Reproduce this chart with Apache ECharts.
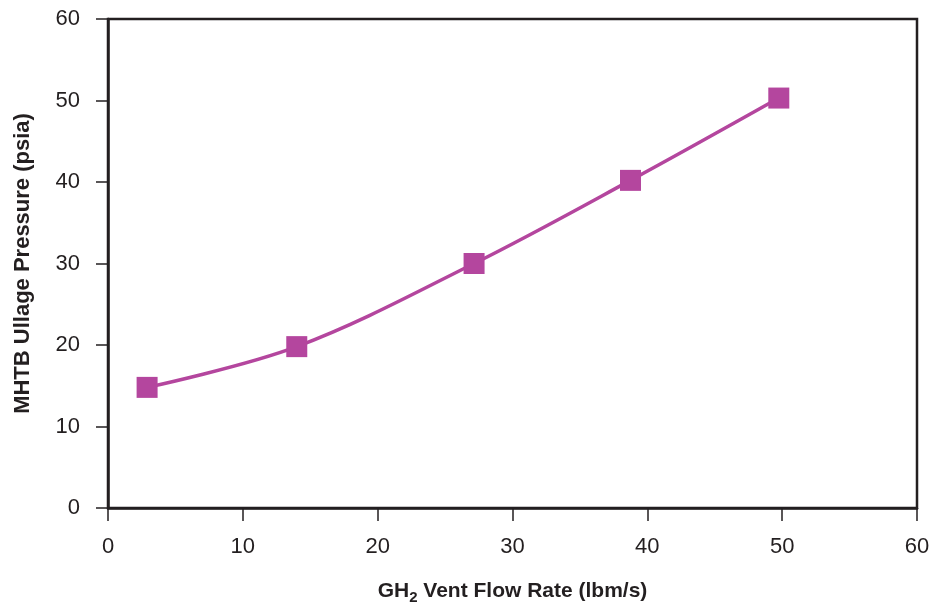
<!DOCTYPE html>
<html>
<head>
<meta charset="utf-8">
<script src="https://cdn.jsdelivr.net/npm/echarts@6/dist/echarts.min.js"></script>
<style>
  html, body { margin: 0; padding: 0; background: #fff; }
  #chart { width: 932px; height: 606px; }
</style>
</head>
<body>
<div id="chart"></div>
<script>
// Vent flow rate (lbm/s) and resulting MHTB ullage pressure (psia)
const flowRate = [2.9, 14.0, 27.15, 38.75, 49.75];
const ullagePressure = [14.8, 19.8, 30.0, 40.2, 50.3];
const xTicks = [0, 10, 20, 30, 40, 50, 60];
const yTicks = [0, 10, 20, 30, 40, 50, 60];

const FONT = '"Liberation Sans", Arial, sans-serif';
const INK = '#231f20';
const MAGENTA = '#b4469e';

const chart = echarts.init(document.getElementById('chart'), null, { renderer: 'canvas' });

chart.setOption({
  animation: false,
  backgroundColor: '#ffffff',
  grid: {
    left: 108, right: 15, top: 19, bottom: 98,
    outerBoundsMode: 'none',
    containLabel: false,
    show: true, borderColor: INK, borderWidth: 2.5, backgroundColor: 'transparent'
  },
  xAxis: {
    type: 'value',
    min: xTicks[0], max: xTicks[xTicks.length - 1], interval: 10,
    name: '{m|GH}{s|2}{m| Vent Flow Rate (lbm/s)}',
    nameLocation: 'middle',
    nameGap: 70,
    nameTextStyle: {
      rich: {
        m: { fontFamily: FONT, fontWeight: 'bold', fontSize: 21, color: INK },
        s: { fontFamily: FONT, fontWeight: 'bold', fontSize: 15, color: INK, padding: [12, 0, 0, 0] }
      }
    },
    axisLine: { show: true, onZero: false, lineStyle: { color: INK, width: 2.5 } },
    axisTick: { show: true, inside: false, length: 13, lineStyle: { color: INK, width: 1.5 } },
    axisLabel: { fontFamily: FONT, fontSize: 22, color: INK, margin: 28 },
    splitLine: { show: false }
  },
  yAxis: {
    type: 'value',
    min: yTicks[0], max: yTicks[yTicks.length - 1], interval: 10,
    name: 'MHTB Ullage Pressure (psia)',
    nameLocation: 'middle',
    nameGap: 74,
    nameTextStyle: { fontFamily: FONT, fontWeight: 'bold', fontSize: 22, color: INK },
    axisLine: { show: true, onZero: false, lineStyle: { color: INK, width: 2.5 } },
    axisTick: { show: true, inside: false, length: 12, lineStyle: { color: INK, width: 1.5 } },
    axisLabel: { fontFamily: FONT, fontSize: 22, color: INK, margin: 28 },
    splitLine: { show: false }
  },
  series: [{
    type: 'line',
    data: flowRate.map((x, i) => [x, ullagePressure[i]]),
    smooth: 0.35,
    symbol: 'rect',
    symbolSize: 21,
    lineStyle: { color: MAGENTA, width: 3.5 },
    itemStyle: { color: MAGENTA, borderWidth: 0 }
  }]
});
</script>
</body>
</html>
